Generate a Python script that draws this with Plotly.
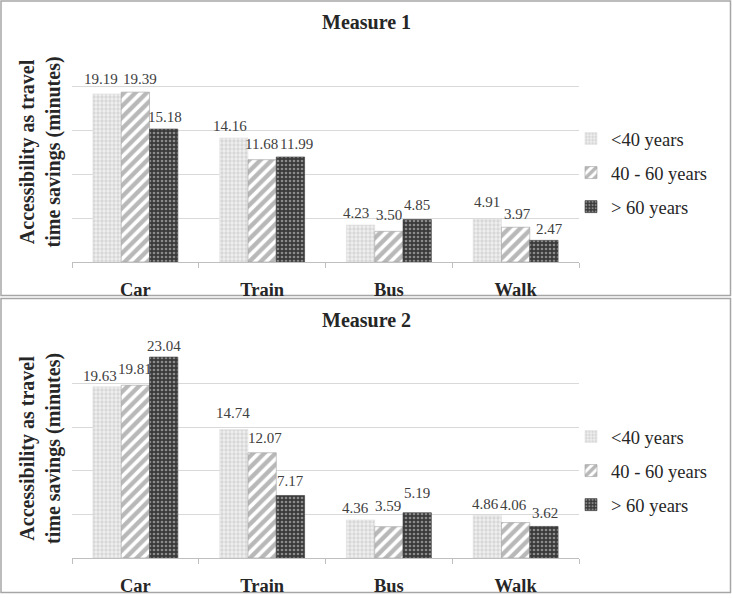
import plotly.graph_objects as go

categories = ["Car", "Train", "Bus", "Walk"]
series_names = ["<40 years", "40 - 60 years", "> 60 years"]
m1_under40 = [19.19, 14.16, 4.23, 4.91]
m1_40to60 = [19.39, 11.68, 3.50, 3.97]
m1_over60 = [15.18, 11.99, 4.85, 2.47]
m2_under40 = [19.63, 14.74, 4.36, 4.86]
m2_40to60 = [19.81, 12.07, 3.59, 4.06]
m2_over60 = [23.04, 7.17, 5.19, 3.62]
panel_titles = ["Measure 1", "Measure 2"]
y_title = "Accessibility as travel<br>time savings (minutes)"

W, H = 732, 598
FONT = "Liberation Serif"

# label nudges in pixels (style only): [panel][series][category]
label_dx = [
    [[-6, -4, -5, 0], [5, -1, 0, 2], [1, 6, 0, 6]],
    [[-7, -1, -5, -2], [0, 3, -1, -2], [0, 0, 0, 1]],
]
label_dy = [
    [[16, 13, 13, 18], [14, 17, 17, 14], [13, 14, 16, 12]],
    [[12, 17, 13, 13], [17, 16, 22, 19], [12, 15, 21, 14]],
]

patterns = [
    dict(shape=".", fgcolor="#bdbdbd", bgcolor="#f0f0f0", size=4, solidity=0.55),
    dict(shape="/", fgcolor="#727272", bgcolor="#ffffff", size=8, solidity=0.55),
    dict(shape=".", fgcolor="#dcdcdc", bgcolor="#3a3a3a", size=4, solidity=0.35),
]
bg = ["#f0f0f0", "#ffffff", "#3a3a3a"]
lines = ["#e0e0e0", "#a0a0a0", "#3a3a3a"]

BAR_PX = 28.3  # bar width in pixels, used to centre labels on bars


def px_x(p):
    return p / W


def px_y(p):
    return 1 - p / H


fig = go.Figure()
panels = [
    (m1_under40, m1_40to60, m1_over60),
    (m2_under40, m2_40to60, m2_over60),
]
ax_suffix = ["", "2"]
legend_ids = ["legend", "legend2"]
annotations = []
for pi, vals in enumerate(panels):
    s = ax_suffix[pi]
    for si, v in enumerate(vals):
        fig.add_trace(go.Bar(
            x=categories, y=v, name=series_names[si],
            xaxis="x" + s, yaxis="y" + s,
            marker=dict(color=bg[si], pattern=patterns[si],
                        line=dict(color=lines[si], width=0.6)),
            hovertemplate="%{x}: %{y:.2f}<extra>" + series_names[si] + "</extra>",
            legend=legend_ids[pi], legendgroup=f"p{pi}s{si}",
            showlegend=True,
        ))
        for ci, (cat, val) in enumerate(zip(categories, v)):
            annotations.append(dict(
                x=cat, y=val, xref="x" + s, yref="y" + s,
                text=f"{val:.2f}", showarrow=False,
                xanchor="center", yanchor="bottom",
                xshift=(si - 1) * BAR_PX + label_dx[pi][si][ci],
                yshift=label_dy[pi][si][ci] - 11,
                font=dict(family=FONT, size=15, color="#404040"),
            ))

# geometry (pixels)
x0, x1 = 72, 579
panel_geo = [(43, 262), (340, 558)]

axis_common_x = dict(
    type="category", showline=True, linecolor="#bfbfbf", linewidth=1,
    ticks="outside", tickson="boundaries", ticklen=5, tickcolor="#bfbfbf",
    tickfont=dict(family=FONT, size=18.5, color="#262626", weight="bold"),
    ticklabelstandoff=11, showgrid=False, fixedrange=True,
)
axis_common_y = dict(
    range=[0, 25], dtick=5, showticklabels=False, showgrid=True,
    gridcolor="#d9d9d9", gridwidth=1, zeroline=False, ticks="",
    fixedrange=True,
)

layout = dict(
    width=W, height=H, margin=dict(l=0, r=0, t=0, b=0),
    paper_bgcolor="white", plot_bgcolor="white",
    bargap=0.33, bargroupgap=0, barmode="group",
    font=dict(family=FONT, color="#262626"),
)
for pi, (top, base) in enumerate(panel_geo):
    s = ax_suffix[pi]
    layout["xaxis" + s] = dict(axis_common_x, domain=[px_x(x0), px_x(x1)],
                               anchor="y" + s)
    layout["yaxis" + s] = dict(axis_common_y, domain=[px_y(base), px_y(top)],
                               anchor="x" + s)

legend_tops = [120, 418]
for pi, lt in enumerate(legend_tops):
    layout[legend_ids[pi]] = dict(
        x=px_x(571), y=px_y(lt), xanchor="left", yanchor="top",
        font=dict(family=FONT, size=18.5, color="#262626"),
        tracegroupgap=7, bgcolor="rgba(0,0,0,0)", borderwidth=0,
        itemclick=False, itemdoubleclick=False,
    )

fig.update_layout(**layout)

title_y = [22, 320]
for pi, (top, base) in enumerate(panel_geo):
    annotations.append(dict(
        text="<b>" + panel_titles[pi] + "</b>", x=px_x(366), y=px_y(title_y[pi]),
        xref="paper", yref="paper", xanchor="center", yanchor="middle",
        showarrow=False, font=dict(family=FONT, size=20, color="#262626"),
    ))
    annotations.append(dict(
        text="<b>" + y_title + "</b>", x=px_x(40), y=px_y((top + base) / 2),
        xref="paper", yref="paper", xanchor="center", yanchor="middle",
        textangle=-90, showarrow=False,
        font=dict(family=FONT, size=20, color="#262626"),
    ))
fig.update_layout(annotations=annotations)

shapes = [
    dict(type="rect", xref="paper", yref="paper",
         x0=px_x(1), x1=px_x(730.5), y0=px_y(295.5), y1=px_y(1),
         line=dict(color="#a6a6a6", width=1.5), fillcolor="rgba(0,0,0,0)", layer="below"),
    dict(type="rect", xref="paper", yref="paper",
         x0=px_x(1), x1=px_x(730.5), y0=px_y(592.5), y1=px_y(298.5),
         line=dict(color="#a6a6a6", width=1.5), fillcolor="rgba(0,0,0,0)", layer="below"),
]
fig.update_layout(shapes=shapes)

fig.write_html(
    "out.html",
    config={"displayModeBar": False},
    post_script="document.body.style.margin='0';document.body.style.overflow='hidden';",
)
